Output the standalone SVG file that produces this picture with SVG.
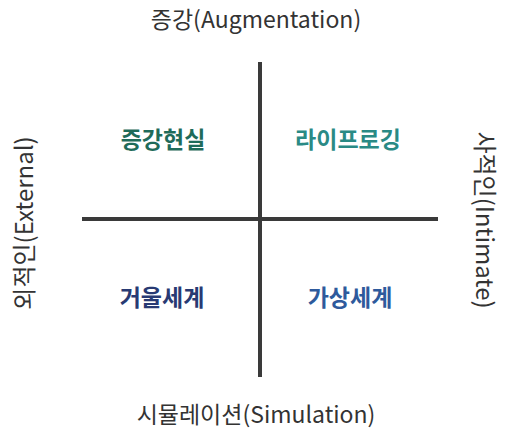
<svg xmlns="http://www.w3.org/2000/svg" width="505" height="430" viewBox="0 0 505 430">
<style>
.axis{font-family:"Noto Sans CJK KR","Noto Sans",sans-serif;font-size:23px;fill:#333;text-anchor:middle}
.side{font-size:24px}
.quad{font-family:"Noto Sans CJK KR","Noto Sans",sans-serif;font-size:23px;font-weight:bold;text-anchor:middle}
.ln{stroke:#3a3a3a;stroke-width:4}
</style>
<rect width="505" height="430" fill="#fff"/>
<g id="connectors">
<line class="ln" x1="260" y1="62" x2="260" y2="377"/>
<line class="ln" x1="82" y1="219" x2="438" y2="219"/>
</g>
<g id="top"><text class="axis" x="256" y="28">증강(Augmentation)</text></g>
<g id="bottom"><text class="axis" x="256" y="423">시뮬레이션(Simulation)</text></g>
<g id="left"><text class="axis side" transform="translate(33,223) rotate(-90)">외적인(External)</text></g>
<g id="right"><text class="axis side" transform="translate(476,220) rotate(90)">사적인(Intimate)</text></g>
<g id="ar"><text class="quad" x="163" y="148" fill="#1f6b5a">증강현실</text></g>
<g id="lifelog"><text class="quad" x="348" y="148" fill="#2a8a85">라이프로깅</text></g>
<g id="mirror"><text class="quad" x="162" y="306" fill="#283a73">거울세계</text></g>
<g id="virtual"><text class="quad" x="350" y="306" fill="#2e5a9c">가상세계</text></g>
</svg>
